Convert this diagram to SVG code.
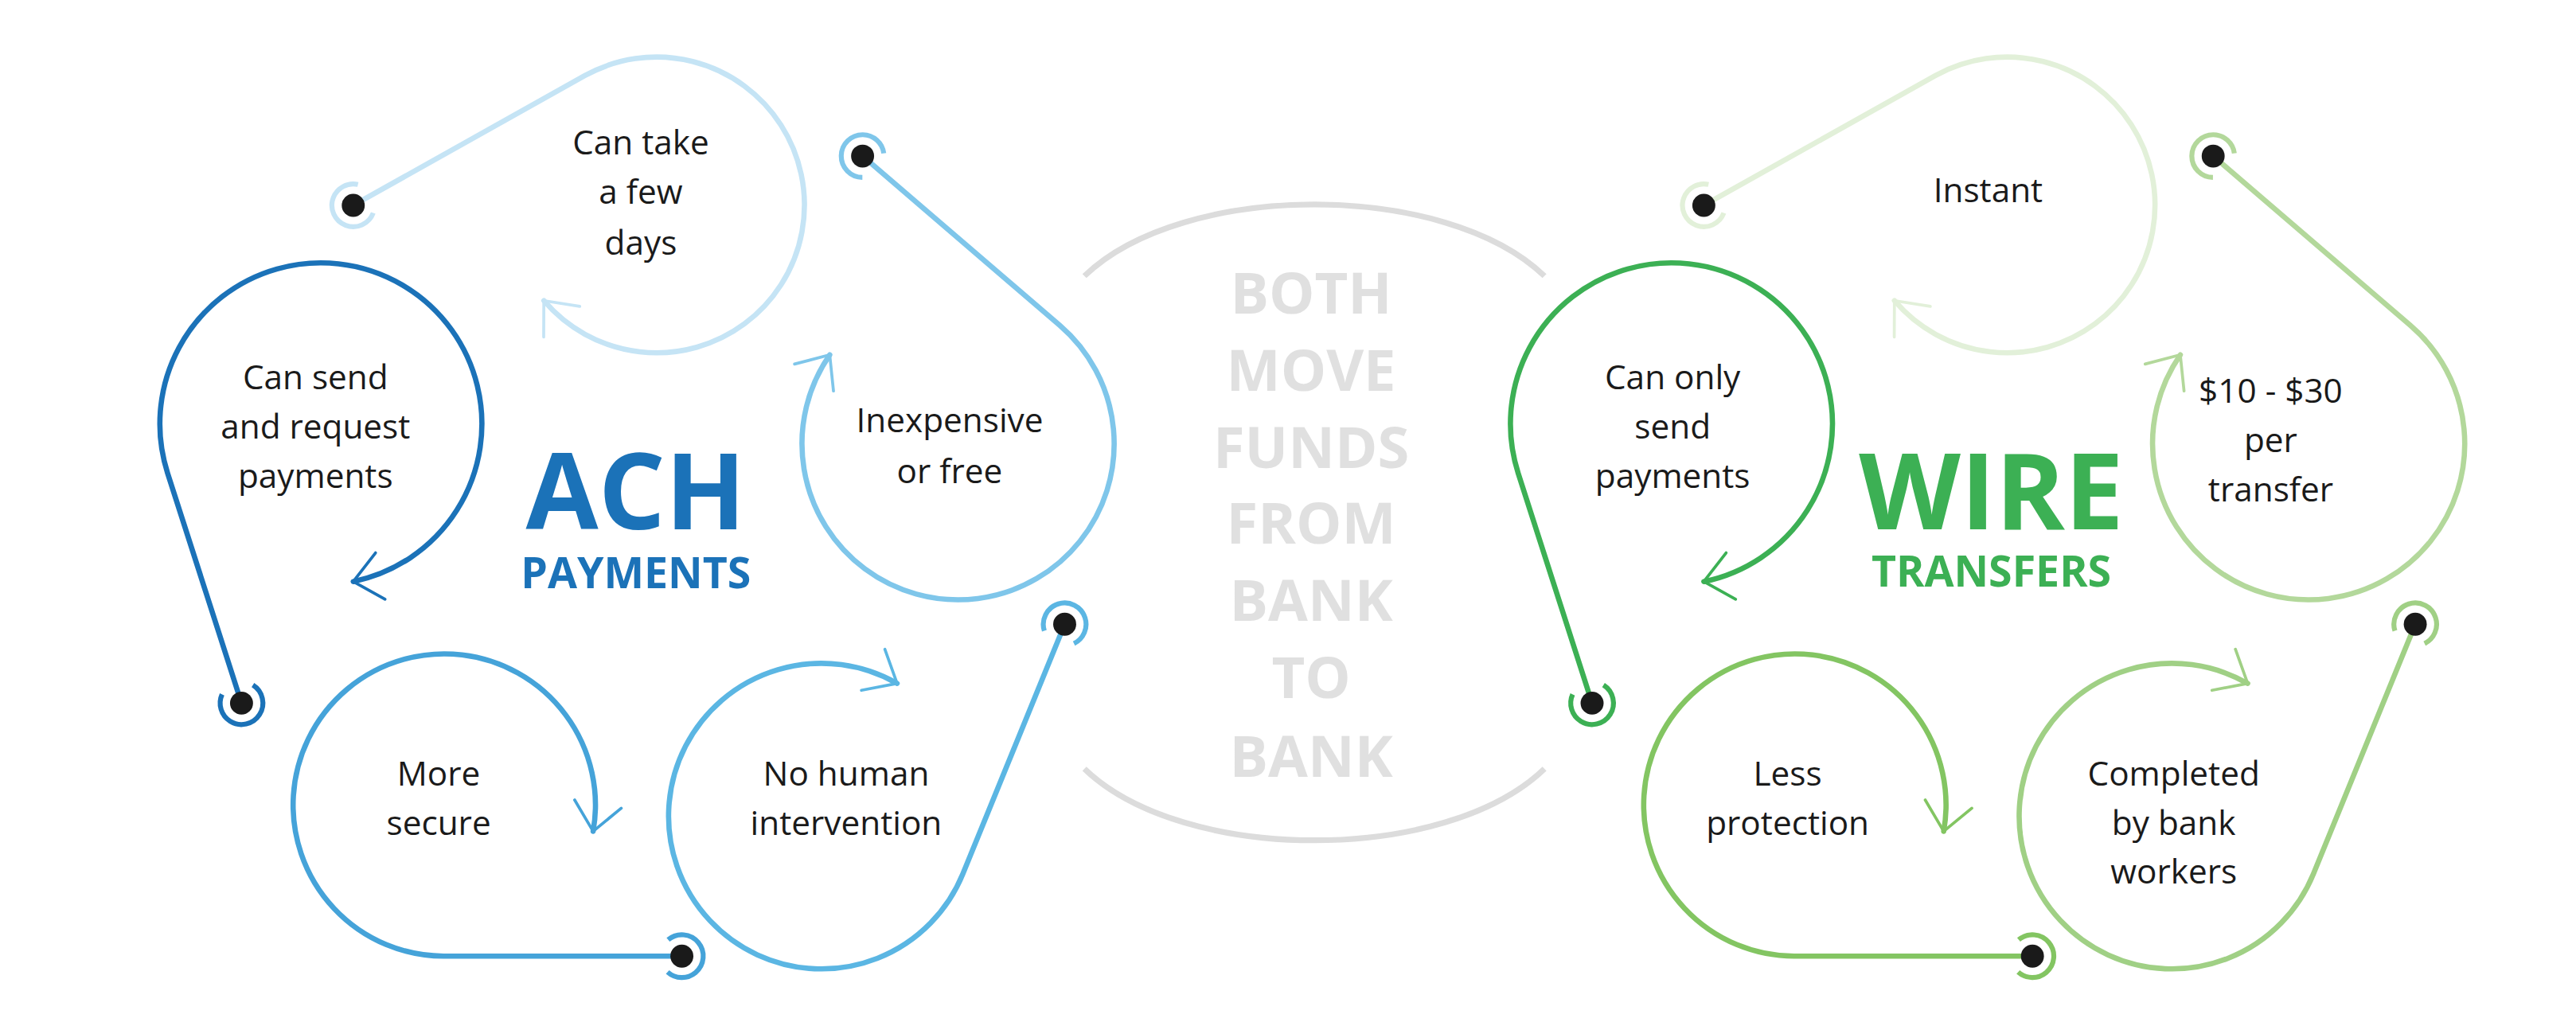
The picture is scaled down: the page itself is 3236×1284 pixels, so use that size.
<svg xmlns="http://www.w3.org/2000/svg" width="3236" height="1284" viewBox="0 0 3236 1284">
<style>
.lp{fill:none;stroke-width:3.2;stroke-linecap:round}
.rg{fill:none;stroke-width:3;stroke-dasharray:59 22.7}
.dot{fill:#1a1a1a}
.t{font-family:"Open Sans","Noto Sans",sans-serif;font-size:20.5px;fill:#1a1a1a;text-anchor:middle}
.big{font-family:"Open Sans","Noto Sans",sans-serif;font-weight:bold;text-anchor:middle}
</style>
<defs>
<marker id="ch" viewBox="-10 -10 20 20" markerWidth="15" markerHeight="15" orient="auto" markerUnits="strokeWidth"><path d="M-7,-6 L0,0 L-7,6" fill="none" stroke="context-stroke" stroke-width="0.75" stroke-linecap="round" stroke-linejoin="round"/></marker>
</defs>
<rect width="3236" height="1284" fill="#fff"/>
<g transform="scale(2.064)">
<g id="center">
<path d="M660,168 C720,110 880,110 940,168 M660,468 C720,526 880,526 940,468" fill="none" stroke="#dcdcdc" stroke-width="3.5"/>
<g class="big" font-size="35" fill="#e0e0e0"><text x="798" y="191">BOTH</text><text x="798" y="238">MOVE</text><text x="798" y="285">FUNDS</text><text x="798" y="331">FROM</text><text x="798" y="378">BANK</text><text x="798" y="425">TO</text><text x="798" y="473">BANK</text></g>
</g>
<g id="ach">
<g id="connectors-ach">
<path class="lp" stroke="#c5e4f5" marker-end="url(#ch)" d="M215,125 L356,46 A90,90 0 1 1 331,183"/>
<path class="lp" stroke="#7fc6ea" marker-end="url(#ch)" d="M525,95 L645,198 A95,95 0 1 1 505,216"/>
<path class="lp" stroke="#5bb6e3" marker-end="url(#ch)" d="M648,380 L586,532 A93,93 0 1 1 546,416"/>
<path class="lp" stroke="#45a3d9" marker-end="url(#ch)" d="M415,582 L270,582 A92,92 0 1 1 361,506"/>
<path class="lp" stroke="#1b72b8" marker-end="url(#ch)" d="M147,428 L102,288 A98,98 0 1 1 215,354"/>
</g>
<g id="ach-take"><circle class="rg" stroke="#c5e4f5" cx="215" cy="125" r="13" transform="rotate(20.7 215 125)"/><circle class="dot" cx="215" cy="125" r="7"/><text class="t" x="390" y="94">Can take</text><text class="t" x="390" y="124">a few</text><text class="t" x="390" y="155">days</text></g>
<g id="ach-cheap"><circle class="rg" stroke="#7fc6ea" cx="525" cy="95" r="13" transform="rotate(90.6 525 95)"/><circle class="dot" cx="525" cy="95" r="7"/><text class="t" x="578" y="263">Inexpensive</text><text class="t" x="578" y="294">or free</text></g>
<g id="ach-human"><circle class="rg" stroke="#5bb6e3" cx="648" cy="380" r="13" transform="rotate(162.2 648 380)"/><circle class="dot" cx="648" cy="380" r="7"/><text class="t" x="515" y="478">No human</text><text class="t" x="515" y="508">intervention</text></g>
<g id="ach-secure"><circle class="rg" stroke="#45a3d9" cx="415" cy="582" r="13" transform="rotate(230 415 582)"/><circle class="dot" cx="415" cy="582" r="7"/><text class="t" x="267" y="478">More</text><text class="t" x="267" y="508">secure</text></g>
<g id="ach-send"><circle class="rg" stroke="#1b72b8" cx="147" cy="428" r="13" transform="rotate(302.2 147 428)"/><circle class="dot" cx="147" cy="428" r="7"/><text class="t" x="192" y="237">Can send</text><text class="t" x="192" y="267">and request</text><text class="t" x="192" y="297">payments</text></g>
<g id="ach-title" fill="#1b72b8"><text class="big" x="387" y="322" font-size="64">ACH</text><text class="big" x="387" y="358" font-size="26">PAYMENTS</text></g>
</g>
<g id="wire" transform="translate(822 0)">
<g id="connectors-wire">
<path class="lp" stroke="#e2f0d9" marker-end="url(#ch)" d="M215,125 L356,46 A90,90 0 1 1 331,183"/>
<path class="lp" stroke="#b3d89b" marker-end="url(#ch)" d="M525,95 L645,198 A95,95 0 1 1 505,216"/>
<path class="lp" stroke="#a0d085" marker-end="url(#ch)" d="M648,380 L586,532 A93,93 0 1 1 546,416"/>
<path class="lp" stroke="#83c562" marker-end="url(#ch)" d="M415,582 L270,582 A92,92 0 1 1 361,506"/>
<path class="lp" stroke="#3cb054" marker-end="url(#ch)" d="M147,428 L102,288 A98,98 0 1 1 215,354"/>
</g>
<g id="wire-instant"><circle class="rg" stroke="#e2f0d9" cx="215" cy="125" r="13" transform="rotate(20.7 215 125)"/><circle class="dot" cx="215" cy="125" r="7"/><text class="t" x="388" y="123">Instant</text></g>
<g id="wire-cost"><circle class="rg" stroke="#b3d89b" cx="525" cy="95" r="13" transform="rotate(90.6 525 95)"/><circle class="dot" cx="525" cy="95" r="7"/><text class="t" x="560" y="245">$10 - $30</text><text class="t" x="560" y="275">per</text><text class="t" x="560" y="305">transfer</text></g>
<g id="wire-workers"><circle class="rg" stroke="#a0d085" cx="648" cy="380" r="13" transform="rotate(162.2 648 380)"/><circle class="dot" cx="648" cy="380" r="7"/><text class="t" x="501" y="478">Completed</text><text class="t" x="501" y="508">by bank</text><text class="t" x="501" y="538">workers</text></g>
<g id="wire-protect"><circle class="rg" stroke="#83c562" cx="415" cy="582" r="13" transform="rotate(230 415 582)"/><circle class="dot" cx="415" cy="582" r="7"/><text class="t" x="266" y="478">Less</text><text class="t" x="266" y="508">protection</text></g>
<g id="wire-send"><circle class="rg" stroke="#3cb054" cx="147" cy="428" r="13" transform="rotate(302.2 147 428)"/><circle class="dot" cx="147" cy="428" r="7"/><text class="t" x="196" y="237">Can only</text><text class="t" x="196" y="267">send</text><text class="t" x="196" y="297">payments</text></g>
<g id="wire-title" fill="#3cb054"><text class="big" x="390" y="322" font-size="64">WIRE</text><text class="big" x="390" y="357" font-size="26">TRANSFERS</text></g>
</g>
</g>
</svg>
